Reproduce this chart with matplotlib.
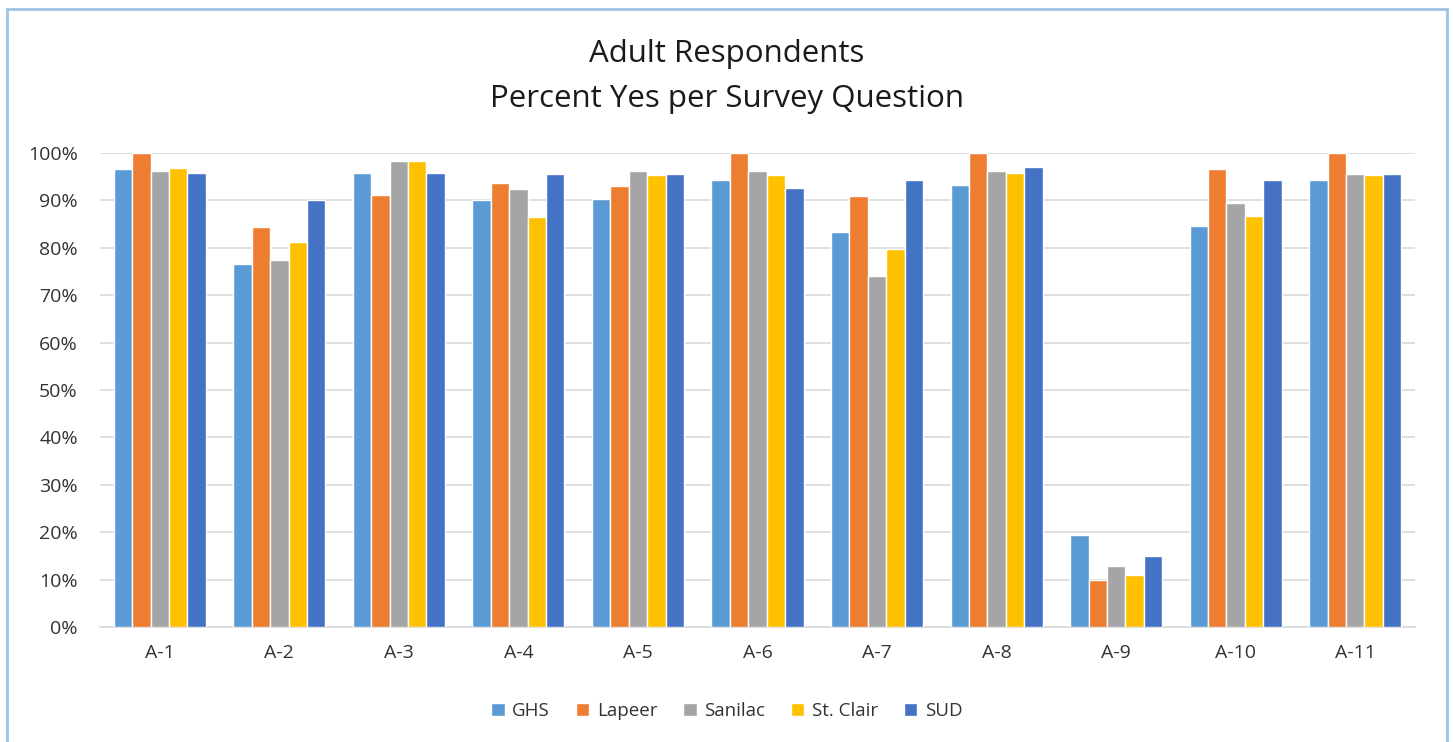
import matplotlib.pyplot as plt
import matplotlib.patches as mpatches
import numpy as np

questions = ['A-1', 'A-2', 'A-3', 'A-4', 'A-5', 'A-6', 'A-7', 'A-8', 'A-9', 'A-10', 'A-11']
ghs = [96.6, 76.6, 95.8, 90.1, 90.2, 94.2, 83.3, 93.2, 19.5, 84.5, 94.2]
lapeer = [100, 84.4, 91.2, 93.7, 93.1, 100, 90.9, 100, 9.9, 96.6, 100]
sanilac = [96.1, 77.4, 98.3, 92.3, 96.1, 96.1, 74.1, 96.1, 12.9, 89.5, 95.5]
st_clair = [96.8, 81.2, 98.3, 86.4, 95.3, 95.4, 79.7, 95.8, 10.9, 86.7, 95.4]
sud = [95.7, 90.0, 95.7, 95.6, 95.6, 92.7, 94.2, 97.1, 15.0, 94.2, 95.6]

series = [('GHS', ghs, '#5B9BD5'),
          ('Lapeer', lapeer, '#ED7D31'),
          ('Sanilac', sanilac, '#A5A5A5'),
          ('St. Clair', st_clair, '#FFC000'),
          ('SUD', sud, '#4472C4')]

plt.rcParams['font.family'] = ['Open Sans', 'DejaVu Sans']

W, H = 1453, 742
fig = plt.figure(figsize=(W / 100, H / 100), dpi=100)

# outer chart frame
fig.patches.append(mpatches.Rectangle((7 / W, -0.01), (1447 - 7) / W, (H - 9) / H + 0.01,
                                      transform=fig.transFigure, fill=False,
                                      edgecolor='#9DC3E6', linewidth=2))

ax = fig.add_axes([100 / W, (H - 627) / H, 1315 / W, 474 / H])

x = np.arange(len(questions))
slot = 0.154
for i, (name, vals, color) in enumerate(series):
    ax.bar(x + (i - 2) * slot, vals, width=slot, color=color, label=name,
           edgecolor='white', linewidth=1.0, zorder=3)

ax.set_xlim(-0.5, len(questions) - 0.5)
ax.set_ylim(0, 100)
ax.set_yticks(np.arange(0, 101, 10))
ax.set_yticklabels([f'{v}%' for v in range(0, 101, 10)])
ax.set_xticks(x)
ax.set_xticklabels(questions)
ax.tick_params(length=0, labelsize=14, colors='#333333')
ax.tick_params(axis='y', pad=16)
ax.tick_params(axis='x', pad=12)
ax.grid(axis='y', color='#D9D9D9', linewidth=1.2, zorder=0)
for s in ['top', 'right', 'left']:
    ax.spines[s].set_visible(False)
ax.spines['bottom'].set_color('#D9D9D9')
ax.spines['bottom'].set_linewidth(1.2)

fig.text(727 / W, 1 - 54 / H, 'Adult Respondents', ha='center', va='center',
         fontsize=22.5, color='#1a1a1a')
fig.text(727 / W, 1 - 99 / H, 'Percent Yes per Survey Question', ha='center', va='center',
         fontsize=22.5, color='#1a1a1a')

fig.legend(loc='center', bbox_to_anchor=(727 / W, 1 - 711 / H), ncol=5, frameon=False,
           fontsize=13.5, handlelength=0.7, handleheight=0.7, handletextpad=0.4,
           columnspacing=1.4, labelcolor='#333333')

fig.savefig('out.png', dpi=100)
